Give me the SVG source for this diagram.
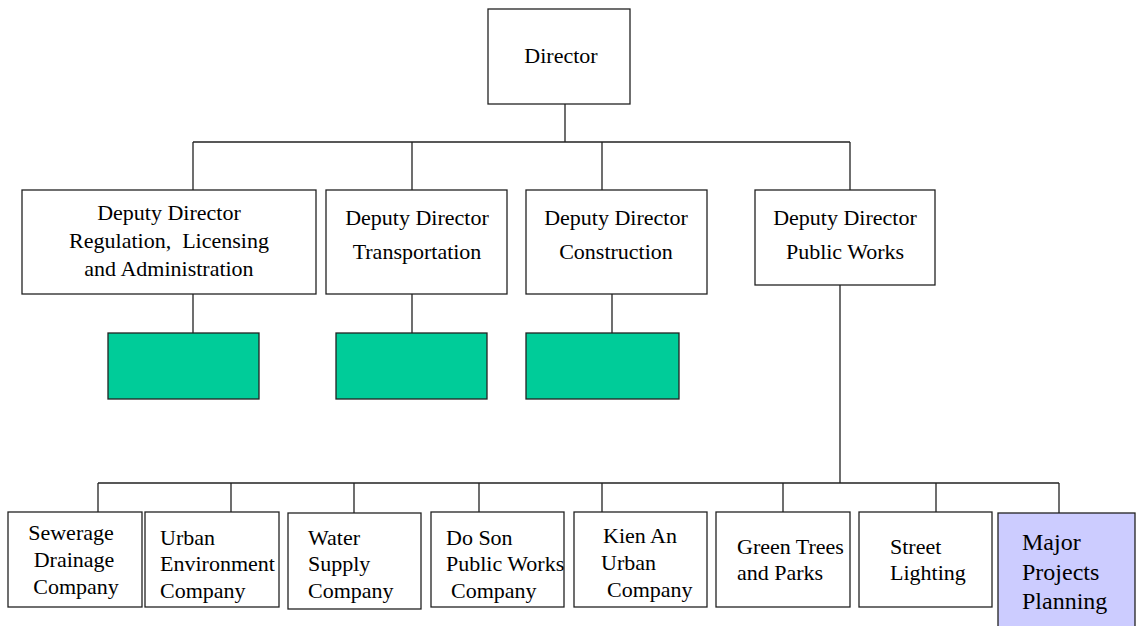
<svg xmlns="http://www.w3.org/2000/svg" width="1140" height="626" viewBox="0 0 1140 626">
<style>
.b{fill:#fff;stroke:#222;stroke-width:1.3}
.g{fill:#00cc99;stroke:#222;stroke-width:1.3}
.p{fill:#ccccff;stroke:#222;stroke-width:1.3}
.c{fill:none;stroke:#222;stroke-width:1.3}
text{font-family:"Liberation Serif","Times New Roman",serif;font-size:22px;fill:#000}
.m{text-anchor:middle}
.L{font-size:24px}
</style>
<rect width="1140" height="626" fill="#fff"/>
<g id="connectors">
<path class="c" d="M565 104V142M193 142H850M193 142V190M412 142V190M602 142V190M850 142V190"/>
<path class="c" d="M193 294V333M412 294V333M612 294V333"/>
<path class="c" d="M840 285V483M98 483H1059M98 483V512M231 483V512M354 483V513M479 483V512M602 483V512M783 483V512M936 483V512M1059 483V513"/>
</g>
<g id="director"><rect class="b" x="488" y="9" width="142" height="95"/><text class="m" x="561" y="63">Director</text></g>
<g id="dd-reg"><rect class="b" x="22" y="190" width="294" height="104"/>
<text class="m" x="169" y="220">Deputy Director</text><text class="m" x="169" y="248" xml:space="preserve">Regulation,  Licensing</text><text class="m" x="169" y="276">and Administration</text></g>
<g id="dd-trans"><rect class="b" x="326" y="190" width="181" height="104"/>
<text class="m" x="417" y="225">Deputy Director</text><text class="m" x="417" y="259">Transportation</text></g>
<g id="dd-cons"><rect class="b" x="526" y="190" width="181" height="104"/>
<text class="m" x="616" y="225">Deputy Director</text><text class="m" x="616" y="259">Construction</text></g>
<g id="dd-pw"><rect class="b" x="755" y="190" width="180" height="95"/>
<text class="m" x="845" y="225">Deputy Director</text><text class="m" x="845" y="259">Public Works</text></g>
<g id="green1"><rect class="g" x="108" y="333" width="151" height="66"/></g>
<g id="green2"><rect class="g" x="336" y="333" width="151" height="66"/></g>
<g id="green3"><rect class="g" x="526" y="333" width="153" height="66"/></g>
<g id="sewerage"><rect class="b" x="8" y="512" width="134" height="95"/>
<text class="m" x="71" y="540">Sewerage</text><text class="m" x="74" y="567">Drainage</text><text class="m" x="76" y="594">Company</text></g>
<g id="urban-env"><rect class="b" x="145" y="512" width="134" height="95"/>
<text x="160" y="545">Urban</text><text x="160" y="571">Environment</text><text x="160" y="598">Company</text></g>
<g id="water"><rect class="b" x="288" y="513" width="133" height="96"/>
<text x="308" y="545">Water</text><text x="308" y="571">Supply</text><text x="308" y="598">Company</text></g>
<g id="doson"><rect class="b" x="431" y="512" width="133" height="95"/>
<text x="446" y="545">Do Son</text><text x="446" y="571">Public Works</text><text x="451" y="598">Company</text></g>
<g id="kienan"><rect class="b" x="574" y="512" width="133" height="95"/>
<text x="603" y="543">Kien An</text><text x="601" y="570">Urban</text><text x="607" y="597">Company</text></g>
<g id="green-trees"><rect class="b" x="716" y="512" width="134" height="95"/>
<text x="737" y="554">Green Trees</text><text x="737" y="580">and Parks</text></g>
<g id="street"><rect class="b" x="859" y="512" width="133" height="95"/>
<text x="890" y="554">Street</text><text x="890" y="580">Lighting</text></g>
<g id="major"><rect class="p" x="998" y="513" width="137" height="120"/>
<text class="L" x="1022" y="550">Major</text><text class="L" x="1022" y="580">Projects</text><text class="L" x="1022" y="609">Planning</text></g>
</svg>
